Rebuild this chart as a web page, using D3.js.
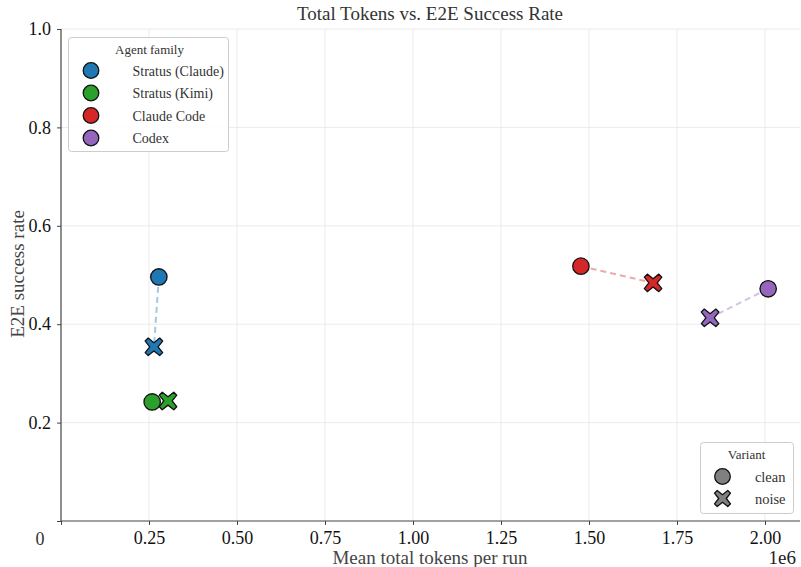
<!DOCTYPE html>
<html>
<head>
<meta charset="utf-8">
<script src="https://cdn.jsdelivr.net/npm/d3@7"></script>
<style>
  html, body { margin: 0; padding: 0; background: #fff; }
  svg { display: block; font-family: "Liberation Serif", "DejaVu Serif", serif; }
</style>
</head>
<body>
<svg id="chart" width="801" height="567"></svg>
<script>
// Agent families and their colours
const families = ["Stratus (Claude)", "Stratus (Kimi)", "Claude Code", "Codex"];
const familyColors = ["#1f77b4", "#2ca02c", "#d62728", "#9467bd"];

// Mean total tokens per run (clean / noise variants)
const tokensClean = [278000, 259000, 1477000, 2009000];
const tokensNoise = [264000, 304000, 1682000, 1844000];

// E2E success rate (clean / noise variants)
const successClean = [0.496, 0.242, 0.518, 0.472];
const successNoise = [0.354, 0.244, 0.484, 0.413];

const variants = ["clean", "noise"];
const xTicks = [250000, 500000, 750000, 1000000, 1250000, 1500000, 1750000, 2000000];
const yTicks = [0.2, 0.4, 0.6, 0.8, 1.0];

const svg = d3.select("#chart");
const plotLeft = 61, plotRight = 800, plotTop = 29, plotBottom = 521;

const x = d3.scaleLinear().domain([0, 2100000]).range([plotLeft, plotLeft + 2100000 * (352 / 1e6)]);
const y = d3.scaleLinear().domain([0, 1]).range([plotBottom, plotTop]);

// Grid
const grid = svg.append("g");
grid.selectAll(".gx").data(xTicks).join("line")
  .attr("x1", d => x(d)).attr("x2", d => x(d))
  .attr("y1", plotTop).attr("y2", plotBottom)
  .attr("stroke", "#ebebeb").attr("stroke-width", 1);
grid.selectAll(".gy").data(yTicks).join("line")
  .attr("x1", plotLeft).attr("x2", plotRight)
  .attr("y1", d => y(d)).attr("y2", d => y(d))
  .attr("stroke", "#ebebeb").attr("stroke-width", 1);

// Axes
const xAxis = d3.axisBottom(x).tickValues([0].concat(xTicks))
  .tickFormat(d => d === 0 ? "" : (d / 1e6).toFixed(2)).tickSize(4).tickPadding(6);
const yAxis = d3.axisLeft(y).tickValues([0].concat(yTicks))
  .tickFormat(d => d === 0 ? "" : d.toFixed(1)).tickSize(4).tickPadding(6);

const gx = svg.append("g").attr("transform", `translate(0,${plotBottom})`).call(xAxis);
gx.select(".domain").attr("d", `M${plotLeft},0H${plotRight}`).attr("stroke", "#444").attr("stroke-width", 1.2);
gx.selectAll(".tick line").attr("stroke", "#444");
gx.selectAll(".tick text").attr("font-family", "Liberation Serif, serif").attr("font-size", 18).attr("fill", "#111");

const gy = svg.append("g").attr("transform", `translate(${plotLeft},0)`).call(yAxis);
gy.select(".domain").attr("d", `M0,${plotBottom}V${plotTop}`).attr("stroke", "#444").attr("stroke-width", 1.2);
gy.selectAll(".tick line").attr("stroke", "#444");
gy.selectAll(".tick text").attr("font-family", "Liberation Serif, serif").attr("font-size", 18).attr("fill", "#111");

// Shared origin label
svg.append("text").attr("x", 40).attr("y", 545).attr("text-anchor", "middle")
  .attr("font-size", 18).attr("fill", "#333").text("0");

// Titles
svg.append("text").attr("x", 430).attr("y", 20).attr("text-anchor", "middle")
  .attr("font-size", 19).attr("fill", "#333").text("Total Tokens vs. E2E Success Rate");
svg.append("text").attr("x", 430).attr("y", 564).attr("text-anchor", "middle")
  .attr("font-size", 19).attr("fill", "#444").text("Mean total tokens per run");
svg.append("text").attr("x", 796).attr("y", 564).attr("text-anchor", "end")
  .attr("font-size", 19).attr("fill", "#222").text("1e6");
svg.append("text").attr("transform", "translate(24,274) rotate(-90)").attr("text-anchor", "middle")
  .attr("font-size", 19).attr("fill", "#444").text("E2E success rate");

// Filled "X" marker
function xMarker(sel, s) {
  const a = s * 0.5, b = s * 0.17;
  const p = [[-a + b, -a], [0, -b * 1.4], [a - b, -a], [a, -a + b], [b * 1.4, 0], [a, a - b],
             [a - b, a], [0, b * 1.4], [-a + b, a], [-a, a - b], [-b * 1.4, 0], [-a, -a + b]];
  return sel.append("path").attr("d", "M" + p.map(q => q.join(",")).join("L") + "Z");
}

const data = families.map((f, i) => ({
  family: f, color: familyColors[i],
  clean: [tokensClean[i], successClean[i]],
  noise: [tokensNoise[i], successNoise[i]]
}));

// Dashed connectors
svg.append("g").selectAll("line").data(data).join("line")
  .attr("x1", d => x(d.clean[0])).attr("y1", d => y(d.clean[1]))
  .attr("x2", d => x(d.noise[0])).attr("y2", d => y(d.noise[1]))
  .attr("stroke", d => d.color).attr("stroke-opacity", 0.4)
  .attr("stroke-width", 2).attr("stroke-dasharray", "6,4");

// Points
const pts = svg.append("g");
data.forEach(d => {
  pts.append("circle").attr("cx", x(d.clean[0])).attr("cy", y(d.clean[1])).attr("r", 8.2)
    .attr("fill", d.color).attr("stroke", "#111").attr("stroke-width", 1.3);
  xMarker(pts.append("g").attr("transform", `translate(${x(d.noise[0])},${y(d.noise[1])})`), 17.5)
    .attr("fill", d.color).attr("stroke", "#111").attr("stroke-width", 1.3).attr("stroke-linejoin", "round");
});

// Family legend
const lg = svg.append("g").attr("transform", "translate(68.5,37.5)");
lg.append("rect").attr("width", 160).attr("height", 114).attr("rx", 3)
  .attr("fill", "#fff").attr("fill-opacity", 0.85).attr("stroke", "#ccc");
lg.append("text").attr("x", 81).attr("y", 16).attr("text-anchor", "middle")
  .attr("font-size", 13).attr("fill", "#333").text("Agent family");
families.forEach((f, i) => {
  const yy = 33 + i * 22.5;
  lg.append("circle").attr("cx", 22.5).attr("cy", yy).attr("r", 7.8)
    .attr("fill", familyColors[i]).attr("stroke", "#111").attr("stroke-width", 1.3);
  lg.append("text").attr("x", 64).attr("y", yy + 5).attr("font-size", 14).attr("fill", "#333").text(f);
});

// Variant legend
const vg = svg.append("g").attr("transform", "translate(700.5,442.5)");
vg.append("rect").attr("width", 93).attr("height", 71).attr("rx", 3)
  .attr("fill", "#fff").attr("fill-opacity", 0.85).attr("stroke", "#ccc");
vg.append("text").attr("x", 46).attr("y", 16).attr("text-anchor", "middle")
  .attr("font-size", 13).attr("fill", "#333").text("Variant");
vg.append("circle").attr("cx", 22).attr("cy", 34).attr("r", 7.8)
  .attr("fill", "#808080").attr("stroke", "#111").attr("stroke-width", 1.3);
xMarker(vg.append("g").attr("transform", "translate(22,56)"), 16)
  .attr("fill", "#808080").attr("stroke", "#111").attr("stroke-width", 1.3).attr("stroke-linejoin", "round");
variants.forEach((v, i) => {
  vg.append("text").attr("x", 85).attr("y", 39 + i * 22).attr("text-anchor", "end")
    .attr("font-size", 14.5).attr("fill", "#333").text(v);
});
</script>
</body>
</html>
